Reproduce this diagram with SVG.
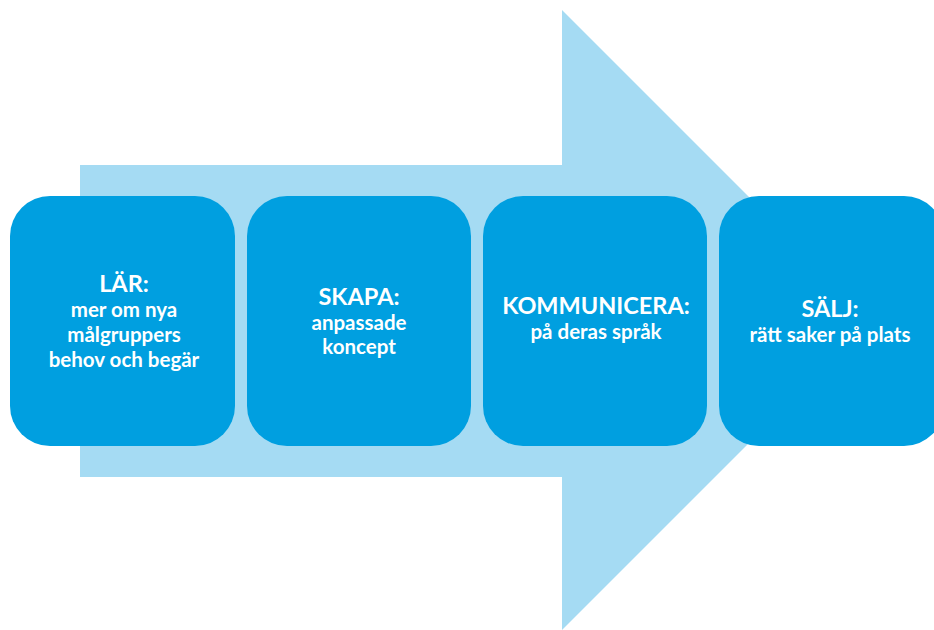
<svg xmlns="http://www.w3.org/2000/svg" width="934" height="630" viewBox="0 0 934 630">
<style>
.box{fill:#009FE0}
.t{font-family:Lato,"Open Sans","Liberation Sans",sans-serif;font-weight:bold;fill:#ffffff;text-anchor:middle}
.h{font-size:23.5px}
.s{font-size:20.5px}
</style>
<rect width="934" height="630" fill="#ffffff"/>
<g id="arrow">
<polygon points="80,165 562,165 562,10 872,320 562,630 562,477 80,477" fill="#A5DBF3"/>
</g>
<g id="connectors"></g>
<g id="n1">
<rect class="box" x="10" y="196" width="225" height="250" rx="40"/>
<text class="t h" x="124" y="292">LÄR:</text>
<text class="t s" x="124" y="317">mer om nya</text>
<text class="t s" x="124" y="342">målgruppers</text>
<text class="t s" x="124" y="367">behov och begär</text>
</g>
<g id="n2">
<rect class="box" x="247" y="196" width="224" height="250" rx="40"/>
<text class="t h" x="359" y="305">SKAPA:</text>
<text class="t s" x="359" y="330">anpassade</text>
<text class="t s" x="359" y="354">koncept</text>
</g>
<g id="n3">
<rect class="box" x="483" y="196" width="224" height="250" rx="40"/>
<text class="t h" x="596" y="314">KOMMUNICERA:</text>
<text class="t s" x="596" y="339">på deras språk</text>
</g>
<g id="n4">
<rect class="box" x="719" y="196" width="225" height="250" rx="40"/>
<text class="t h" x="830" y="317">SÄLJ:</text>
<text class="t s" x="830" y="342">rätt saker på plats</text>
</g>
</svg>
